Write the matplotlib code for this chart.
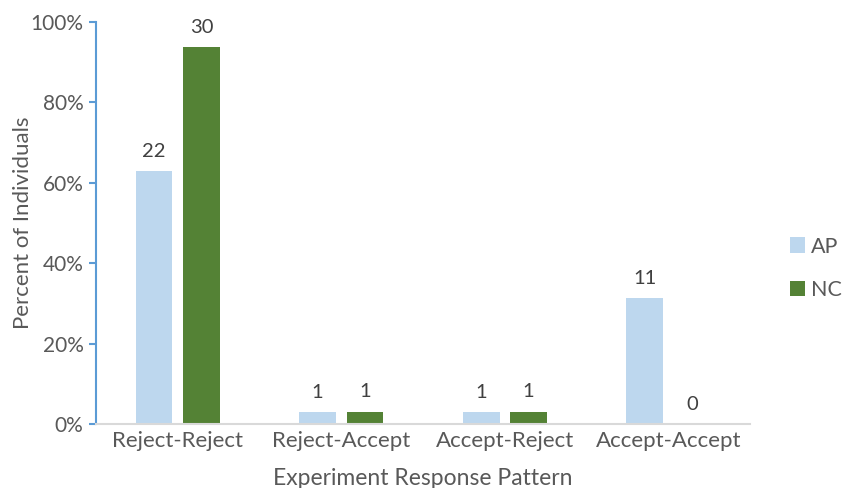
import numpy as np
import matplotlib
matplotlib.use("Agg")
import matplotlib.pyplot as plt
from matplotlib.ticker import PercentFormatter

# data
patterns = ["Reject-Reject", "Reject-Accept", "Accept-Reject", "Accept-Accept"]
ap_pct = [62.9, 2.9, 2.9, 31.4]
nc_pct = [93.8, 3.1, 3.1, 0.0]
ap_counts = [22, 1, 1, 11]
nc_counts = [30, 1, 1, 0]

plt.rcParams['font.family'] = ['Lato', 'DejaVu Sans']
txt = '#595959'

fig = plt.figure(figsize=(8.42, 4.88), dpi=100)
ax = fig.add_axes([0.114, 0.131, 0.777, 0.824])

x = np.arange(len(patterns))
w = 0.225
off = 0.145
b1 = ax.bar(x - off, ap_pct, w, color='#BDD7EE', label='AP')
b2 = ax.bar(x + off, nc_pct, w, color='#548235', label='NC')

for bars, counts in ((b1, ap_counts), (b2, nc_counts)):
    for b, c in zip(bars, counts):
        ax.annotate(str(c), (b.get_x() + b.get_width() / 2, b.get_height()),
                    xytext=(0, 8), textcoords='offset points',
                    ha='center', va='bottom', fontsize=14.5, color='#404040')

ax.set_xlim(-0.5, 3.5)
ax.set_ylim(0, 100)
ax.set_yticks(np.arange(0, 101, 20))
ax.yaxis.set_major_formatter(PercentFormatter(decimals=0))
ax.set_xticks(x)
ax.set_xticklabels(patterns)

for s in ('top', 'right'):
    ax.spines[s].set_visible(False)
ax.spines['left'].set_color('#5B9BD5')
ax.spines['left'].set_linewidth(1.5)
ax.spines['bottom'].set_color('#D9D9D9')
ax.spines['bottom'].set_linewidth(1.5)
ax.tick_params(axis='y', colors='#5B9BD5', labelcolor=txt, labelsize=15, length=5, width=1.5, pad=4)
ax.tick_params(axis='x', length=0, labelcolor=txt, labelsize=16, pad=5)

ax.set_ylabel('Percent of Individuals', fontsize=16, color=txt, labelpad=-2)
ax.set_xlabel('Experiment Response Pattern', fontsize=16.5, color=txt, labelpad=12)

fig.legend(handles=[b1, b2], loc='center left', bbox_to_anchor=(0.938, 0.45),
           frameon=False, fontsize=15.5, labelcolor=txt, handlelength=0.7,
           handleheight=0.7, handletextpad=0.3, labelspacing=1.1,
           borderaxespad=0, borderpad=0)

fig.savefig('out.png', dpi=100)
